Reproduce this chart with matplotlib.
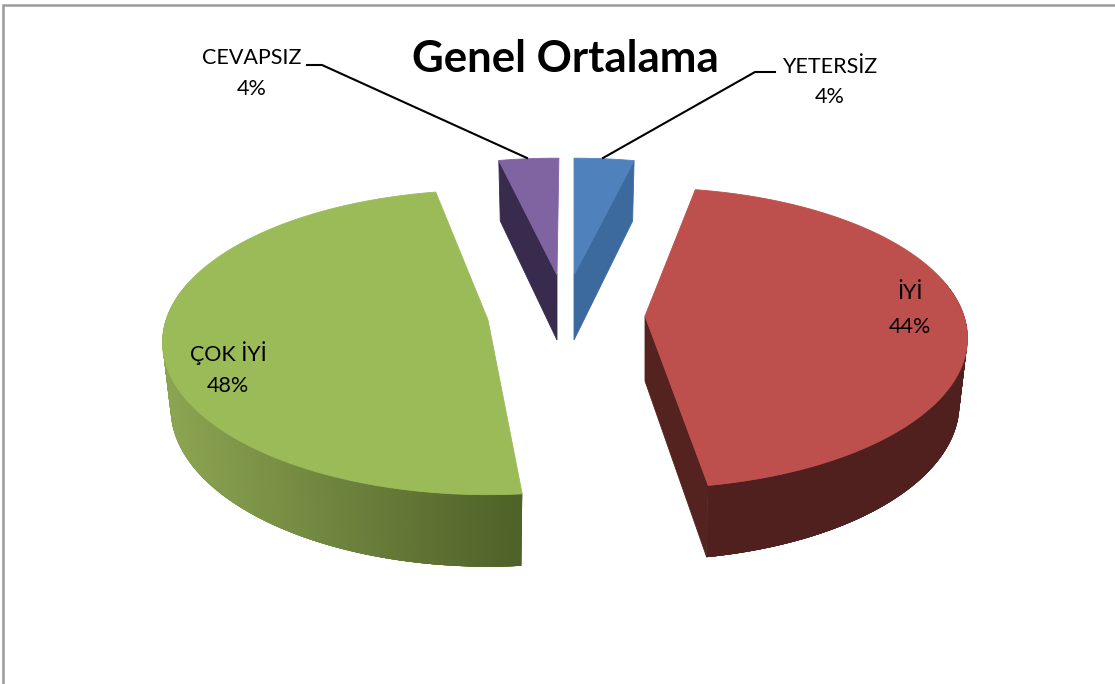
import numpy as np
import matplotlib
matplotlib.use("Agg")
import matplotlib.pyplot as plt
from matplotlib.patches import Polygon

# data
categories = ["YETERSİZ", "İYİ", "ÇOK İYİ", "CEVAPSIZ"]
values = [3.5, 44.4, 48.47, 3.5]
title = "Genel Ortalama"

# layout (pixel scale of the axes)
start_angles = [0.0, 10.4, 174.8, 347.8]
tips = [(574, 275), (645, 316), (488, 320), (557, 275)]
radii = [(315, 134), (319, 147), (322, 149), (315, 134)]
drops = [65, 65, 65, 65]
side_face = ["end", "end", None, "start"]
top_colors = ["#4f81bd", "#bd4f4c", "#9bbb59", "#8064a2"]
side_colors = ["#3c6a9e", "#55231f", None, "#382b4d"]
rim_colors = [("#3c6a9e", "#3c6a9e"), ("#4f201e", "#4f201e"),
              ("#4f6229", "#8ba451"), ("#382b4d", "#382b4d")]
label_pos = [(830, 67, 97), (910, 293, 327), (228, 353, 386), (252, 58, 89)]
leaders = [[(775, 72), (755, 72)], None, None, [(307, 65), (322, 65)]]
leader_ends = [(603, 158), None, None, (527, 158)]
K = 0.147

plt.rcParams["font.family"] = ["Lato", "DejaVu Sans"]
fig = plt.figure(figsize=(11.15, 6.84), dpi=100, facecolor="white")
ax = fig.add_axes([0, 0, 1, 1])
ax.set_xlim(0, 1115)
ax.set_ylim(684, 0)
ax.axis("off")

ax.plot([3, 3, 1115], [684, 5, 5], color="#9a9a9a", lw=1.8, solid_joinstyle="miter")


def project(theta, tip, r, xs=1.0, ys=1.0):
    t = np.radians(theta)
    u, v = np.sin(t), np.cos(t)
    f = 1.0 / (1.0 + K * v)
    return tip[0] + xs * r[0] * u * f, tip[1] - ys * r[1] * v * f


def mix(a, b, w):
    ca, cb = np.array(matplotlib.colors.to_rgb(a)), np.array(matplotlib.colors.to_rgb(b))
    return tuple(ca + (cb - ca) * w)


for i, val in enumerate(values):
    a0 = start_angles[i]
    a1 = a0 + val * 3.6
    th = np.linspace(a0, a1, max(8, int((a1 - a0) * 2)))
    tip, r, d = tips[i], radii[i], drops[i]
    tipb = (tip[0], tip[1] + d)
    xt, yt = project(th, tip, r)
    xb, yb = project(th, tipb, r, 0.975, 1.04)

    # outer wall, only the part that faces the viewer; neighbouring quads overlap
    c0, c1 = rim_colors[i]
    n = len(th)
    order = [j for j in range(n - 1) if np.cos(np.radians(th[j])) <= 0.25]
    if a0 > 90:  # paint from the far end so the overlap stays hidden
        order = order[::-1]
    for j in order:
        w = np.clip((tip[0] + 35 - xt[j]) / 350.0, 0, 1)
        col = mix(c0, c1, w)
        e = min(j + 3, n - 1)
        s = max(j - 2, 0)
        ax.add_patch(Polygon(np.vstack([np.column_stack([xt[s:e + 1], yt[s:e + 1]]),
                                        np.column_stack([xb[s:e + 1], yb[s:e + 1]])[::-1]]),
                             closed=True, fc=col, ec="none", zorder=2))

    # flat cut face
    if side_face[i]:
        k = -1 if side_face[i] == "end" else 0
        ax.add_patch(Polygon([tip, (xt[k], yt[k]), (xb[k], yb[k]), tipb], closed=True,
                             fc=side_colors[i], ec=side_colors[i], lw=0.6, zorder=3))

    # top face
    ax.add_patch(Polygon(np.vstack([[tip], np.column_stack([xt, yt])]), closed=True,
                         fc=top_colors[i], ec=top_colors[i], lw=0.6, zorder=4))

    # labels and leaders
    x, y1, y2 = label_pos[i]
    ax.text(x, y1, categories[i], ha="center", va="center", fontsize=15.5, color="black", zorder=6)
    ax.text(x, y2, f"{val:.0f}%", ha="center", va="center", fontsize=15.5, color="black", zorder=6)
    if leaders[i]:
        pts = leaders[i] + [leader_ends[i]]
        ax.plot(*zip(*pts), color="black", lw=1.5, zorder=5, solid_joinstyle="miter")

ax.text(565, 59, title, ha="center", va="center", fontsize=31.5, fontweight="bold", color="black", zorder=6)

fig.savefig("out.png", dpi=100)
